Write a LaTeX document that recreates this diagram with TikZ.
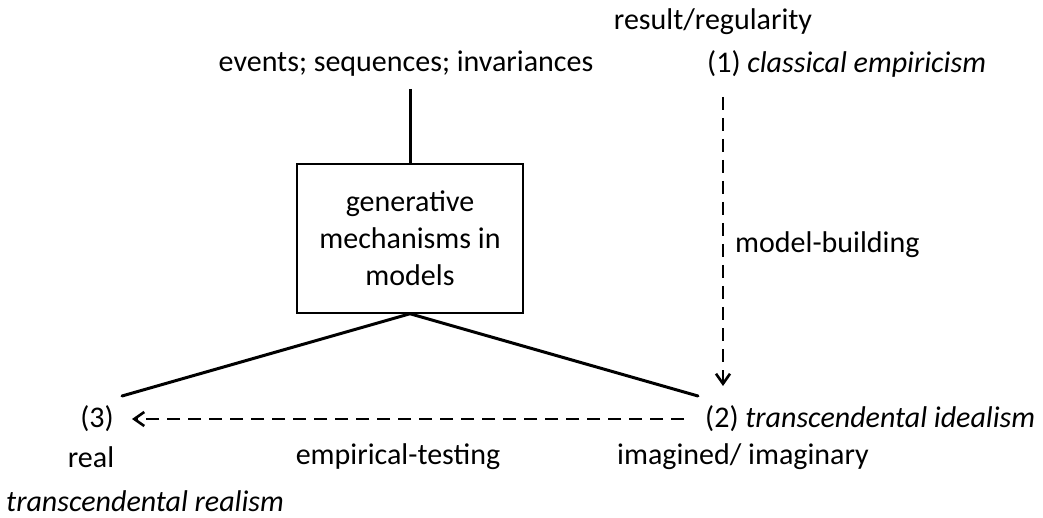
\documentclass[tikz,border=0pt]{standalone}
\usepackage{fontspec}
\setmainfont{Carlito}
\usetikzlibrary{arrows.meta}
\begin{document}
\begin{tikzpicture}[x=1pt,y=-1pt,
  lbl/.style={inner sep=0pt,font=\fontsize{30}{36}\selectfont},
  solidline/.style={line width=3pt},
  dashline/.style={line width=2.8pt,dash pattern=on 13pt off 8pt,
    -{Straight Barb[length=10pt,width=14pt,line width=2.6pt]}},
  mechbox/.style={draw,line width=1.5pt,minimum width=226pt,minimum height=149pt,
    align=center,inner sep=0pt,font=\fontsize{30}{37}\selectfont}]
\useasboundingbox (0,0) rectangle (1043,518);

% labels
\node[lbl] (result) at (713,22) {result/regularity};
\node[lbl] (events) at (406,64) {events; sequences; invariances};
\node[lbl,anchor=west] (emp) at (707,64) {(1) \textit{classical empiricism}};
\node[lbl,anchor=west] (model) at (735,245) {model-building};
\node[lbl] (three) at (97,419) {(3)};
\node[lbl] (real) at (91,457) {real};
\node[lbl] (testing) at (398,457) {empirical-testing};
\node[lbl,anchor=west] (ideal) at (705,419) {(2) \textit{transcendental idealism}};
\node[lbl] (imag) at (743,457) {imagined/ imaginary};
\node[lbl,anchor=base west] (realism) at (6,511) {\textit{transcendental realism}};

% central box
\node[mechbox] (mech) at (410,238.5) {generative\\mechanisms in\\models};

% connector end points
\coordinate (evbot) at (410,89);
\coordinate (leftend) at (122,396);
\coordinate (rightend) at (698,396);
\coordinate (mbtop) at (723,97);
\coordinate (mbtip) at (723,386);
\coordinate (ettail) at (684,419);
\coordinate (ettip) at (132,419);

% connectors
\draw[solidline] (evbot) -- (mech.north);
\draw[solidline,line cap=round] (leftend) -- (mech.south) -- (rightend);
\draw[dashline] (mbtop) -- (mbtip);
\draw[dashline] (ettail) -- (ettip);
\end{tikzpicture}
\end{document}
